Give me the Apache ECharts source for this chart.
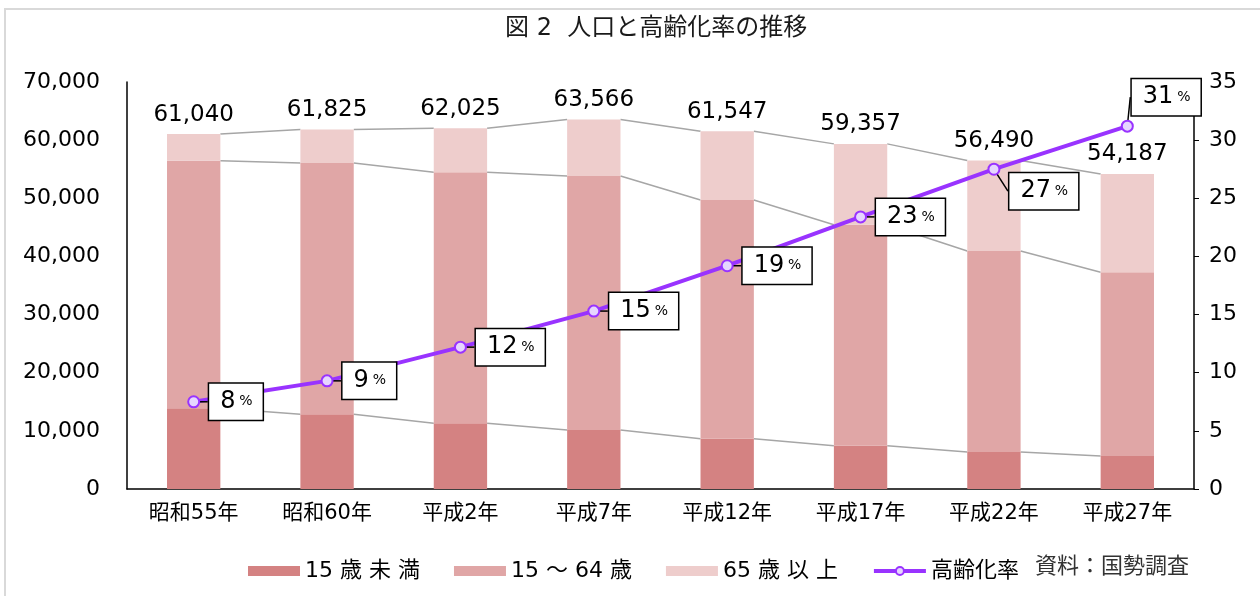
<!DOCTYPE html>
<html>
<head>
<meta charset="utf-8">
<script src="https://cdn.jsdelivr.net/npm/echarts@6/dist/echarts.min.js"></script>
</head>
<body style="margin:0;background:#fff">
<div style="position:absolute;left:4px;top:8px;width:1300px;height:700px;border-left:2px solid #d9d9d9;border-top:2px solid #d9d9d9"></div>
<div id="Chart" style="position:absolute;left:0;top:0;width:1260px;height:596px"></div>
<script>
  // 人口と高齢化率の推移（国勢調査）
  var years = ['昭和55年', '昭和60年', '平成2年', '平成7年', '平成12年', '平成17年', '平成22年', '平成27年']
  var under15 = [13880, 12850, 11300, 10150, 8650, 7450, 6360, 5680]
  var working = [42590, 43225, 43170, 43690, 41060, 38010, 34580, 31607]
  var over65 = [4570, 5750, 7555, 9726, 11837, 13897, 15550, 16900]
  var totals = [61040, 61825, 62025, 63566, 61547, 59357, 56490, 54187]
  var rate = [7.5, 9.3, 12.2, 15.3, 19.2, 23.4, 27.5, 31.2]
  var rateLabels = [8, 9, 12, 15, 19, 23, 27, 31]

  var FONT = "'DejaVu Sans', 'Noto Sans CJK JP', sans-serif"

  // series lines between the stacked bars
  var linkData = []
  for (var i = 0; i < years.length - 1; i++) {
    linkData.push([i,
      under15[i], under15[i] + working[i], totals[i],
      under15[i + 1], under15[i + 1] + working[i + 1], totals[i + 1]])
  }

  var Chart = echarts.init(document.getElementById('Chart'))

  Chart.setOption({
    animation: false,
    textStyle: { fontFamily: FONT },
    title: [{
      text: '図 2  人口と高齢化率の推移',
      left: 500,
      top: 12,
      textStyle: { fontFamily: FONT, fontSize: 24, fontWeight: 'normal', color: '#1a1a1a' }
    }],
    graphic: [{
      type: 'text',
      left: 1035,
      top: 554,
      style: { text: '資料：国勢調査', font: "22px 'Noto Sans CJK JP'", fill: '#333' }
    }],
    legend: {
      left: 243,
      top: 555,
      itemWidth: 52,
      itemHeight: 10,
      itemGap: 34,
      textStyle: { fontFamily: FONT, fontSize: 22, color: '#000' },
      data: [
        { name: '15 歳 未 満', icon: 'rect' },
        { name: '15 ～ 64 歳', icon: 'rect' },
        { name: '65 歳 以 上', icon: 'rect' },
        { name: '高齢化率', lineStyle: { width: 4 } }
      ]
    },
    grid: { left: 127, right: 66, top: 82, bottom: 107 },
    xAxis: {
      type: 'category',
      data: years,
      axisLine: { lineStyle: { color: '#000', width: 1.5 } },
      axisTick: { show: false },
      axisLabel: { fontFamily: FONT, fontSize: 21, color: '#000', margin: 14 }
    },
    yAxis: [{
      type: 'value',
      min: 0,
      max: 70000,
      interval: 10000,
      splitLine: { show: false },
      axisLine: { show: true, lineStyle: { color: '#000', width: 1.5 } },
      axisTick: { show: false },
      axisLabel: {
        fontFamily: FONT, fontSize: 22, color: '#000', margin: 27,
        formatter: function (v) { return v.toLocaleString('en-US') }
      }
    }, {
      type: 'value',
      min: 0,
      max: 35,
      interval: 5,
      splitLine: { show: false },
      axisLine: { show: true, lineStyle: { color: '#000', width: 1.5 } },
      axisTick: { show: true, inside: false, length: 5, lineStyle: { color: '#000' } },
      axisLabel: { fontFamily: FONT, fontSize: 22, color: '#000', margin: 15 }
    }],
    series: [{
      type: 'custom',
      name: 'links',
      z: 1,
      silent: true,
      encode: { x: 0, y: 1 },
      data: linkData,
      renderItem: function (params, api) {
        var idx = api.value(0)
        var hw = api.size([1, 0])[0] * 0.2
        var kids = []
        for (var k = 0; k < 3; k++) {
          var a = api.coord([idx, api.value(1 + k)])
          var b = api.coord([idx + 1, api.value(4 + k)])
          kids.push({
            type: 'line',
            shape: { x1: a[0] + hw, y1: a[1], x2: b[0] - hw, y2: b[1] },
            style: { stroke: '#a6a6a6', lineWidth: 1.5 }
          })
        }
        return { type: 'group', children: kids }
      }
    }, {
      name: '15 歳 未 満',
      type: 'bar',
      stack: 'pop',
      barWidth: '40%',
      z: 2,
      itemStyle: { color: '#d48282' },
      data: under15
    }, {
      name: '15 ～ 64 歳',
      type: 'bar',
      stack: 'pop',
      z: 2,
      itemStyle: { color: '#e0a6a6' },
      data: working
    }, {
      name: '65 歳 以 上',
      type: 'bar',
      stack: 'pop',
      z: 2,
      itemStyle: { color: '#eecdcc' },
      label: {
        show: true,
        position: 'top',
        distance: 8,
        fontFamily: FONT,
        fontSize: 23,
        color: '#000',
        formatter: function (p) { return totals[p.dataIndex].toLocaleString('en-US') }
      },
      data: over65
    }, {
      name: '高齢化率',
      type: 'line',
      yAxisIndex: 1,
      z: 5,
      symbol: 'circle',
      symbolSize: 11,
      lineStyle: { color: '#9933ff', width: 4 },
      itemStyle: { color: '#e6d6ff', borderColor: '#9933ff', borderWidth: 2 },
      label: {
        show: true,
        position: 'right',
        distance: 4,
        backgroundColor: '#fff',
        borderColor: '#000',
        borderWidth: 1.5,
        padding: [3, 10, 3, 11],
        formatter: function (p) { return '{n|' + rateLabels[p.dataIndex] + '} {p|%}' },
        rich: {
          n: { fontFamily: FONT, fontSize: 24, color: '#000', lineHeight: 30 },
          p: { fontFamily: FONT, fontSize: 14, color: '#000', lineHeight: 30 }
        }
      },
      labelLine: { show: true, lineStyle: { color: '#000', width: 1.5 } },
      labelLayout: function (p) {
        if (p.dataIndex === 6) return { dx: 5, dy: 22 }
        if (p.dataIndex === 7) return { dx: -6, dy: -29 }
        return { dx: 5, dy: 0 }
      },
      data: rate
    }]
  })
</script>
</body>
</html>
